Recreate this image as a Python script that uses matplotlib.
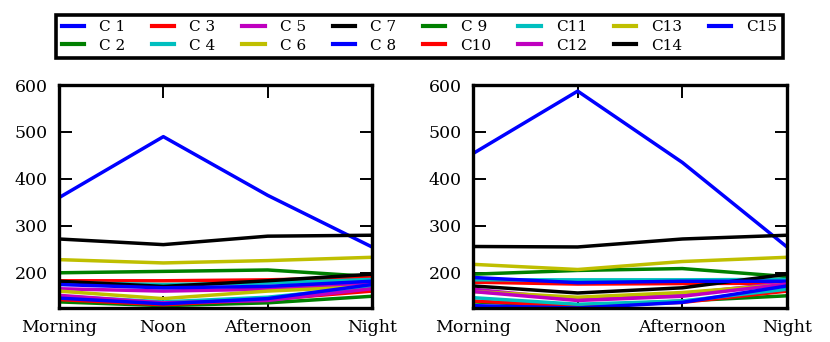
import matplotlib
matplotlib.use("Agg")
import matplotlib.pyplot as plt

periods = ["Morning", "Noon", "Afternoon", "Night"]
labels = ["C 1", "C 2", "C 3", "C 4", "C 5", "C 6", "C 7", "C 8", "C 9",
          "C10", "C11", "C12", "C13", "C14", "C15"]
colors = ["b", "g", "r", "c", "m", "y", "k"]

left_values = [
    [360, 490, 365, 255],   # C1
    [200, 203, 206, 192],   # C2
    [183, 183, 185, 190],   # C3
    [179, 175, 178, 186],   # C4
    [166, 161, 165, 178],   # C5
    [161, 145, 161, 171],   # C6
    [182, 171, 183, 197],   # C7
    [175, 168, 171, 182],   # C8
    [138, 130, 136, 150],   # C9
    [143, 132, 143, 161],   # C10
    [150, 138, 148, 170],   # C11
    [152, 136, 141, 166],   # C12
    [228, 221, 226, 233],   # C13
    [272, 260, 278, 280],   # C14
    [146, 134, 145, 175],   # C15
]

right_values = [
    [454, 587, 435, 255],   # C1
    [197, 205, 209, 192],   # C2
    [180, 176, 177, 178],   # C3
    [185, 185, 185, 186],   # C4
    [165, 143, 155, 179],   # C5
    [160, 148, 158, 175],   # C6
    [172, 157, 168, 197],   # C7
    [190, 179, 182, 182],   # C8
    [138, 129, 140, 151],   # C9
    [140, 129, 137, 161],   # C10
    [147, 133, 140, 165],   # C11
    [160, 141, 150, 176],   # C12
    [218, 207, 224, 233],   # C13
    [256, 255, 272, 280],   # C14
    [130, 125, 137, 172],   # C15
]

y_limits = (125, 600)
y_ticks = [200, 300, 400, 500, 600]

plt.rcParams["font.family"] = ["DejaVu Serif"]
fig = plt.figure(figsize=(8.3, 3.42), dpi=100)
ax1 = fig.add_axes([59/830, 1-308/342, 313/830, 223/342])
ax2 = fig.add_axes([473/830, 1-308/342, 314/830, 223/342])

x = list(range(len(periods)))
handles = []
for ax, data in ((ax1, left_values), (ax2, right_values)):
    for i, (lab, vals) in enumerate(zip(labels, data)):
        ln, = ax.plot(x, vals, color=colors[i % len(colors)], lw=2.5, label=lab)
        if ax is ax1:
            handles.append(ln)
    ax.set_xlim(0, 3)
    ax.set_ylim(*y_limits)
    ax.set_xticks(x)
    ax.set_xticklabels(periods)
    ax.set_yticks(y_ticks)
    for s in ax.spines.values():
        s.set_linewidth(2.4)
    ax.tick_params(direction="in", length=9, width=1.4, top=True, right=True,
                   labelsize=12.5, pad=8)

leg = fig.legend(handles=handles, labels=labels, ncol=8,
                 bbox_to_anchor=(419.5/830, 1-36.5/342),
                 loc="center", fontsize=11, frameon=True,
                 fancybox=False, edgecolor="k", framealpha=1,
                 handlelength=1.45, handletextpad=1.0, borderaxespad=0,
                 columnspacing=1.75, labelspacing=0.3, borderpad=0.35)
leg.get_frame().set_linewidth(2.6)
for h in leg.legend_handles:
    h.set_linewidth(3)

fig.savefig("out.png", dpi=100)
